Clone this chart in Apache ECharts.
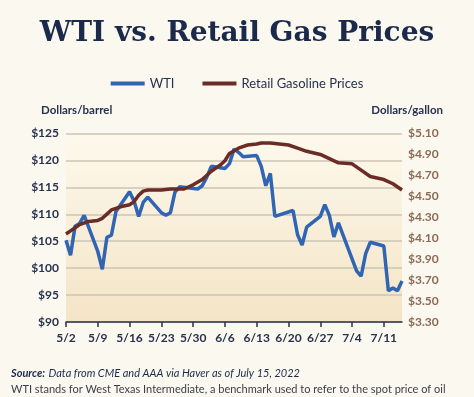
<!DOCTYPE html>
<html>
<head>
<meta charset="utf-8">
<script src="https://cdn.jsdelivr.net/npm/echarts@6/dist/echarts.min.js"></script>
<style>
html, body { margin: 0; padding: 0; background: #fbf8f0; }
#chart { width: 474px; height: 397px; }
</style>
</head>
<body>
<div id="chart"></div>
<script>
// WTI front-month settle, trading days only
var wtiDates = ['5/2', '5/3', '5/4', '5/5', '5/6', '5/9', '5/10', '5/11', '5/12', '5/13',
    '5/16', '5/17', '5/18', '5/19', '5/20', '5/23', '5/24', '5/25', '5/26', '5/27',
    '5/31', '6/1', '6/2', '6/3', '6/6', '6/7', '6/8', '6/9', '6/10', '6/13',
    '6/14', '6/15', '6/16', '6/17', '6/21', '6/22', '6/23', '6/24', '6/27', '6/28',
    '6/29', '6/30', '7/1', '7/5', '7/6', '7/7', '7/8', '7/11', '7/12', '7/13',
    '7/14', '7/15'];
var wtiPrices = [105.2, 102.4, 107.8, 108.3, 109.8, 103.1, 99.8, 105.7, 106.1, 110.5,
    114.2, 112.4, 109.6, 112.2, 113.2, 110.3, 109.8, 110.3, 114.1, 115.1,
    114.7, 115.3, 116.9, 118.9, 118.5, 119.4, 122.1, 121.5, 120.7, 120.9,
    118.9, 115.3, 117.6, 109.6, 110.7, 106.2, 104.3, 107.6, 109.6, 111.8,
    109.8, 105.8, 108.4, 99.5, 98.5, 102.7, 104.8, 104.1, 95.8, 96.3,
    95.8, 97.6];

// AAA national average regular gasoline ($/gal)
var gasDates = ['5/2', '5/3', '5/4', '5/5', '5/7', '5/9', '5/10', '5/11', '5/12', '5/14', '5/16',
    '5/17', '5/18', '5/19', '5/20', '5/23', '5/25', '5/28', '5/30', '6/1', '6/3',
    '6/5', '6/6', '6/7', '6/9', '6/11', '6/13', '6/14', '6/16', '6/18', '6/20',
    '6/22', '6/24', '6/27', '6/29', '7/1', '7/4', '7/6', '7/8', '7/11', '7/13',
    '7/15'];
var gasPrices = [4.14, 4.17, 4.20, 4.23, 4.26, 4.27, 4.29, 4.33, 4.37, 4.40, 4.42,
    4.45, 4.51, 4.55, 4.56, 4.56, 4.57, 4.57, 4.61, 4.66, 4.74,
    4.80, 4.84, 4.91, 4.96, 4.99, 5.00, 5.01, 5.01, 5.00, 4.99,
    4.96, 4.93, 4.90, 4.86, 4.82, 4.81, 4.75, 4.69, 4.66, 4.62,
    4.56];

// every calendar day 5/2 .. 7/15 on the x axis
var days = [];
var monthLen = { 5: 31, 6: 30, 7: 31 };
var m = 5, d = 2;
while (!(m === 7 && d > 15)) {
    days.push(m + '/' + d);
    d++;
    if (d > monthLen[m]) { m++; d = 1; }
}

var navy = '#27324f';
var chart = echarts.init(document.getElementById('chart'));

chart.setOption({
    backgroundColor: '#fbf8f0',
    animation: false,
    title: {
        text: 'WTI vs. Retail Gas Prices',
        left: 'center',
        top: 15,
        textStyle: {
            fontFamily: 'DejaVu Serif',
            fontWeight: 'bold',
            fontSize: 28,
            color: '#1b2a4a'
        }
    },
    legend: {
        top: 72,
        left: 'center',
        itemWidth: 34,
        itemHeight: 4,
        itemGap: 28,
        icon: 'rect',
        textStyle: { fontFamily: 'Lato', fontSize: 13, color: navy },
        data: ['WTI', 'Retail Gasoline Prices']
    },
    grid: {
        left: 66,
        right: 72,
        top: 133.5,
        bottom: 75,
        show: true,
        borderWidth: 0,
        backgroundColor: {
            type: 'linear', x: 0, y: 0, x2: 0, y2: 1,
            colorStops: [
                { offset: 0, color: '#fdf9ec' },
                { offset: 1, color: '#f4e4c6' }
            ]
        }
    },
    xAxis: {
        type: 'category',
        data: days,
        boundaryGap: false,
        axisLine: { lineStyle: { color: navy, width: 1.5 } },
        axisTick: { interval: 6, length: 5, lineStyle: { color: navy, width: 1.5 } },
        axisLabel: {
            interval: 6,
            margin: 10,
            fontFamily: 'Lato',
            fontWeight: 'bold',
            fontSize: 12,
            color: navy
        },
        splitLine: { show: false }
    },
    yAxis: [
        {
            type: 'value',
            min: 90,
            max: 125,
            interval: 5,
            axisLine: { show: false },
            axisTick: { show: false },
            axisLabel: {
                margin: 7,
                fontFamily: 'Lato',
                fontWeight: 'bold',
                fontSize: 12,
                color: navy,
                formatter: '${value}'
            },
            splitLine: { lineStyle: { color: '#cdc5b4', width: 1.5 } }
        },
        {
            type: 'value',
            min: 3.3,
            max: 5.1,
            interval: 0.1,
            position: 'right',
            axisLine: { show: false },
            axisTick: { show: false },
            splitLine: { show: false },
            axisLabel: {
                margin: 6,
                fontFamily: 'Lato',
                fontWeight: 'bold',
                fontSize: 12,
                color: '#8c6a55',
                formatter: function (v) {
                    var t = Math.round(v * 10);
                    return t % 2 === 1 ? '$' + v.toFixed(2) : '';
                }
            }
        }
    ],
    graphic: [
        {
            type: 'text', left: 41, top: 104,
            style: { text: 'Dollars/barrel', fontFamily: 'Lato', fontWeight: 'bold', fontSize: 11.5, fill: navy }
        },
        {
            type: 'text', right: 31, top: 104,
            style: { text: 'Dollars/gallon', fontFamily: 'Lato', fontWeight: 'bold', fontSize: 11.5, fill: navy }
        },
        {
            type: 'text', left: 11, top: 367,
            style: {
                text: '{a|Source:} {b|Data from CME and AAA via Haver as of July 15, 2022}',
                rich: {
                    a: { fontFamily: 'Lato', fontWeight: 'bold', fontStyle: 'italic', fontSize: 11, fill: '#1b2a4a' },
                    b: { fontFamily: 'Lato', fontStyle: 'italic', fontSize: 11, fill: '#1b2a4a' }
                }
            }
        },
        {
            type: 'text', left: 11, top: 384,
            style: { text: 'WTI stands for West Texas Intermediate, a benchmark used to refer to the spot price of oil', fontFamily: 'Lato', fontSize: 11, fill: '#3a3e4c' }
        }
    ],
    series: [
        {
            name: 'WTI',
            type: 'line',
            yAxisIndex: 0,
            symbol: 'none',
            color: '#2f65b3',
            lineStyle: { width: 3.5, color: '#2f65b3' },
            data: wtiDates.map(function (dt, i) { return [dt, wtiPrices[i]]; })
        },
        {
            name: 'Retail Gasoline Prices',
            type: 'line',
            yAxisIndex: 1,
            symbol: 'none',
            color: '#6b2c28',
            lineStyle: { width: 3.5, color: '#6b2c28' },
            data: gasDates.map(function (dt, i) { return [dt, gasPrices[i]]; })
        }
    ]
});
</script>
</body>
</html>
